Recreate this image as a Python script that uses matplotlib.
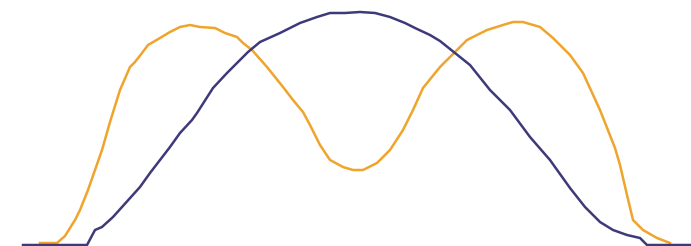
import numpy as np
import matplotlib as mpl
mpl.use('Agg')
import matplotlib.pyplot as plt

########## curve data (position, depth from top) ##########

x_orange = [40, 57, 65, 75, 80, 88, 95, 102, 110, 120, 130, 135, 142, 148, 160,
            170, 180, 190, 200, 215, 225, 237, 243, 252, 267, 283, 293, 303, 310,
            320, 330, 343, 353, 363, 377, 390, 403, 413, 423, 440, 455, 467, 487,
            503, 513, 523, 540, 553, 570, 583, 600, 615, 620, 627, 633, 643, 657,
            670]
y_orange = [243, 243, 236, 220, 210, 190, 170, 150, 122, 90, 67, 62, 53, 45, 38,
            32, 27, 25, 27, 28, 33, 37, 43, 50, 67, 87, 100, 112, 125,
            145, 160, 167, 170, 170, 163, 150, 130, 110, 88, 67, 52, 40, 30,
            25, 22, 22, 27, 38, 55, 73, 110, 148, 165, 195, 220, 230, 238,
            243]

x_purple = [23, 87, 95, 102, 113, 140, 150, 160, 170, 180, 192, 197, 213, 227, 240,
            248, 260, 280, 300, 317, 330, 345, 360, 375, 390, 405, 415, 430, 440,
            455, 470, 490, 510, 530, 550, 570, 585, 600, 613, 627, 640, 647, 691]
y_purple = [245, 245, 230, 227, 217, 187, 173, 160, 147, 133, 120, 113, 88, 73, 60,
            52, 42, 33, 23, 17, 13, 13, 12, 13, 17, 23, 28, 35, 41,
            53, 65, 90, 110, 137, 160, 188, 207, 222, 230, 235, 238, 245, 245]

# heights measured from the bottom edge
h_orange = 246 - np.array(y_orange)
h_purple = 246 - np.array(y_purple)

fig = plt.figure(figsize=(6.91, 2.46), dpi=100)
ax = fig.add_axes([0, 0, 1, 1])
ax.set_xlim(0, 691)
ax.set_ylim(0, 246)
ax.axis('off')

ax.plot(x_orange, h_orange, '-', color='#EFA42B', lw=1.8, solid_joinstyle='round')
ax.plot(x_purple, h_purple, '-', color='#3E3A7A', lw=1.8, solid_joinstyle='round')

fig.savefig("out.png", dpi=100, facecolor='white')
